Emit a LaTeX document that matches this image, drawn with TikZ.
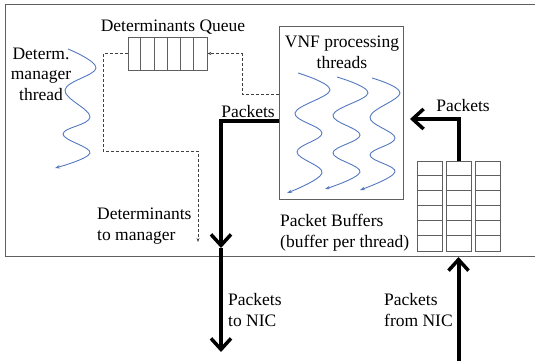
\documentclass[tikz,border=0pt]{standalone}
\usepackage{fontspec}
\setmainfont{Liberation Serif}
\usetikzlibrary{arrows.meta,positioning}
\definecolor{threadblue}{RGB}{84,120,190}
\definecolor{framegray}{RGB}{95,95,95}
\tikzset{
  lbl/.style={font=\fontsize{17.5}{20.5}\selectfont, inner sep=0pt},
  thin box/.style={draw=framegray, line width=0.8pt, inner sep=0pt},
  thread/.style={draw=threadblue, line width=0.9pt, -{Stealth[length=5pt,width=3.5pt]}},
  dsh/.style={draw=black!75, line width=0.7pt, dash pattern=on 3pt off 2pt, -{Stealth[length=4pt,width=3pt]}},
  pkt/.style={line width=4pt, -{Straight Barb[length=11pt,width=20pt,line width=3.5pt]}}
}
\begin{document}
\begin{tikzpicture}[x=1pt,y=-1pt]
\useasboundingbox (0,0) rectangle (535,360);
\draw[framegray, line width=0.9pt] (540,4.5) -- (5,4.5) -- (5,256) -- (540,256);

\node[lbl, anchor=base] (qlbl) at (173,31) {Determinants Queue};
\node[thin box, minimum width=79pt, minimum height=33pt] (queue) at (167.5,53.5) {};
\foreach \i in {1,...,5}
  \draw[framegray, line width=0.8pt] ([xshift=\i*13.17pt]queue.north west) -- ([xshift=\i*13.17pt]queue.south west);

\node[lbl, align=center, anchor=base] (mgrlbl) at (41,100) {Determ.\\manager\\thread};
\draw[thread] plot[smooth, tension=0.65] coordinates {(68,49) (96,68) (65,90) (90,117) (63,134) (90,153) (55,168)};

\node[thin box, minimum width=124pt, minimum height=173pt] (vnf) at (341,112.5) {};
\node[lbl, align=center, anchor=base] (vnflbl) at (342,68) {VNF processing\\threads};
\draw[thread] plot[smooth, tension=0.65] coordinates {(298,73) (330,90) (295,113) (322,133) (297,152) (322,173) (287,193)};
\draw[thread] plot[smooth, tension=0.65] coordinates {(337,77) (368,93) (333,115) (360,135) (333,153) (360,172) (325,189)};
\draw[thread] plot[smooth, tension=0.65] coordinates {(372,78) (400,93) (370,117) (395,138) (370,155) (395,172) (360,190)};

\foreach \c/\x in {1/429.5,2/458.5,3/488}{
  \node[thin box, minimum width=25pt, minimum height=90pt] (buf\c) at (\x,206) {};
  \foreach \r in {1,...,5}
    \draw[framegray, line width=0.8pt] ([yshift=-\r*15pt]buf\c.north west) -- ([yshift=-\r*15pt]buf\c.north east);
}
\node[lbl, align=left, anchor=base west] (buflbl) at (280,247) {Packet Buffers\\(buffer per thread)};

\coordinate (outturn) at (221,120.5);
\coordinate (outend) at (221,248);
\coordinate (nicend) at (221,352);
\node[lbl, anchor=base] (outlbl) at (248,117) {Packets};
\draw[pkt] (vnf.west |- outturn) -- (outturn) -- (outend);
\draw[pkt] (outend) -- (nicend);
\node[lbl, align=left, anchor=base west] (tonic) at (228,326) {Packets\\to NIC};

\coordinate (inend) at (410,119);
\node[lbl, anchor=base] (inlbl) at (463,111) {Packets};
\draw[pkt] (buf2.north) -- (buf2.north |- inend) -- (inend);

\coordinate (nicsrc) at (458.5,362);
\coordinate (nictip) at (458.5,257);
\draw[pkt] (nicsrc) -- (nictip);
\node[lbl, align=left, anchor=base west] (fromnic) at (384,326) {Packets\\from NIC};

\coordinate (detend) at (198,242);
\draw[dsh] (queue.west) -- (103,53.5) -- (103,151) -- (198,151) -- (detend);
\node[lbl, align=left, anchor=base west] (detlbl) at (97,240) {Determinants\\to manager};
\draw[dsh] (vnf.west |- 0,94) -- (242,94) -- (242,53.5) -- (queue.east);
\end{tikzpicture}
\end{document}
